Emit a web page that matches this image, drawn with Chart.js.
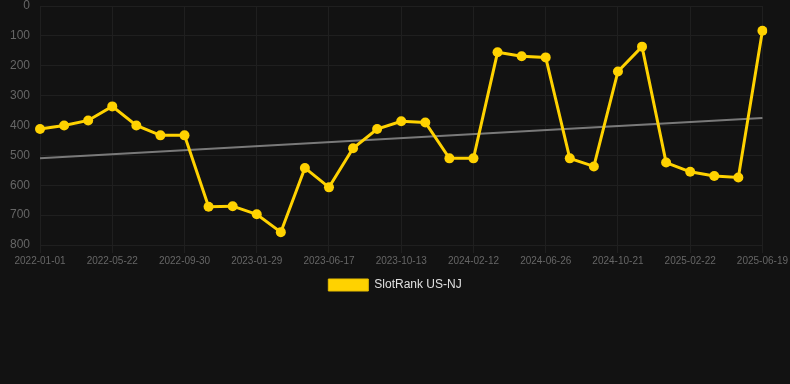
<!DOCTYPE html>
<html>
<head>
<meta charset="utf-8">
<script src="https://cdn.jsdelivr.net/npm/chart.js@4/dist/chart.umd.min.js"></script>
<style>
  html, body { margin: 0; padding: 0; background: #121212; }
  #wrap { width: 790px; height: 301px; position: relative; }
</style>
</head>
<body>
<div id="wrap"><canvas id="c"></canvas></div>
<script>
const dates = [
  "2022-01-01","2022-02-17","2022-04-05","2022-05-22","2022-07-05","2022-08-18",
  "2022-09-30","2022-11-09","2022-12-19","2023-01-29","2023-03-16","2023-05-02",
  "2023-06-17","2023-07-26","2023-09-03","2023-10-13","2023-11-23","2024-01-02",
  "2024-02-12","2024-03-28","2024-05-12","2024-06-26","2024-08-04","2024-09-12",
  "2024-10-21","2024-12-01","2025-01-11","2025-02-22","2025-04-02","2025-05-11",
  "2025-06-19"
];
const rankNJ = [
  412, 400, 383, 336, 400, 433, 433, 672, 670, 697, 757, 542, 607, 476, 412, 386,
  390, 510, 510, 155, 168, 172, 510, 537, 219, 136, 524, 555, 569, 574, 83
];
const trendStart = 510;
const trendEnd = 375;
const yTicks = [0, 100, 200, 300, 400, 500, 600, 700, 800];
const seriesName = "SlotRank US-NJ";

const trend = dates.map((d, i) => i === 0 ? trendStart : (i === dates.length - 1 ? trendEnd : null));

new Chart(document.getElementById('c'), {
  type: 'line',
  data: {
    labels: dates,
    datasets: [
      {
        label: seriesName,
        data: rankNJ,
        borderColor: '#ffd200',
        backgroundColor: '#ffd200',
        borderWidth: 3,
        pointRadius: 5,
        pointHoverRadius: 5,
        pointBorderWidth: 0,
        pointBackgroundColor: '#ffd200',
        tension: 0,
        order: 1
      },
      {
        label: 'trend',
        data: trend,
        borderColor: 'rgba(140,140,140,0.85)',
        borderWidth: 2,
        pointRadius: 0,
        spanGaps: true,
        order: 2
      }
    ]
  },
  options: {
    responsive: true,
    maintainAspectRatio: false,
    animation: false,
    layout: { padding: 0 },
    plugins: {
      legend: {
        position: 'bottom',
        labels: {
          color: '#e0e0e0',
          font: { family: 'Liberation Sans, Arial, sans-serif', size: 12 },
          boxWidth: 40,
          boxHeight: 12,
          filter: item => item.datasetIndex === 0,
          generateLabels: chart => Chart.defaults.plugins.legend.labels.generateLabels(chart)
            .map(l => Object.assign(l, { lineWidth: 1, strokeStyle: '#e6bd00' }))
        }
      },
      tooltip: { enabled: false }
    },
    scales: {
      x: {
        type: 'category',
        afterBuildTicks: axis => { axis.ticks = axis.ticks.filter((t, i) => i % 3 === 0); },
        ticks: {
          autoSkip: false,
          maxRotation: 0,
          padding: 2,
          color: '#666',
          font: { family: 'Liberation Sans, Arial, sans-serif', size: 10 }
        },
        grid: { color: '#1f1f1f', tickColor: '#1f1f1f' },
        border: { display: false }
      },
      y: {
        reverse: true,
        min: 0,
        max: 800,
        afterBuildTicks: axis => { axis.ticks = yTicks.map(v => ({ value: v })); },
        afterFit: axis => { axis.paddingTop = 6; axis.paddingBottom = 6; },
        ticks: {
          color: '#666',
          padding: 10,
          font: { family: 'Liberation Sans, Arial, sans-serif', size: 12 }
        },
        grid: { color: '#1f1f1f', drawTicks: false },
        border: { display: false }
      }
    }
  }
});
</script>
</body>
</html>
